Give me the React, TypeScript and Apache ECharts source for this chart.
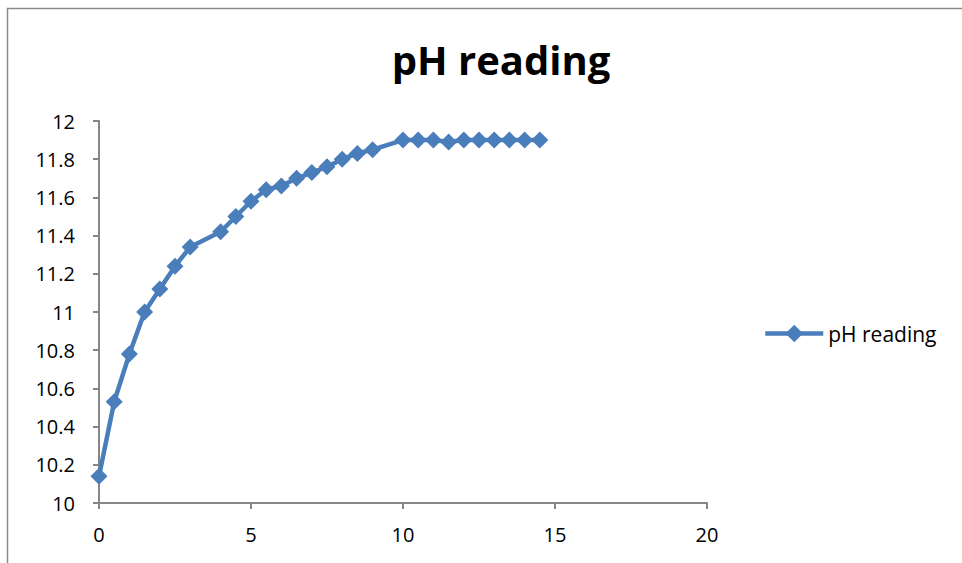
import React, { useEffect, useRef } from "react";
import * as echarts from "echarts";

const xValues = [0, 0.5, 1, 1.5, 2, 2.5, 3, 4, 4.5, 5, 5.5, 6, 6.5, 7, 7.5, 8, 8.5, 9, 10, 10.5, 11, 11.5, 12, 12.5, 13, 13.5, 14, 14.5];
const phValues = [10.14, 10.53, 10.78, 11.0, 11.12, 11.24, 11.34, 11.42, 11.5, 11.58, 11.64, 11.66, 11.7, 11.73, 11.76, 11.8, 11.83, 11.85, 11.9, 11.9, 11.9, 11.89, 11.9, 11.9, 11.9, 11.9, 11.9, 11.9];
const seriesName = "pH reading";
const titleText = "pH reading";

export default function App() {
  const ref = useRef<HTMLDivElement>(null);
  useEffect(() => {
    const chart = echarts.init(ref.current!, null, { renderer: "svg" });
    const font = "'Open Sans', 'Noto Sans', sans-serif";
    chart.setOption({
      animation: false,
      backgroundColor: "#ffffff",
      title: {
        text: titleText,
        left: 496,
        top: 34,
        textAlign: "center",
        textStyle: { fontFamily: font, fontWeight: "bold", fontSize: 40, color: "#000" },
      },
      legend: {
        data: [seriesName],
        left: 758,
        top: 318,
        itemWidth: 58,
        itemHeight: 22,
        itemGap: 8,
        lineStyle: { width: 4.5, color: "#4a7ebb" },
        textStyle: { fontFamily: font, fontSize: 21, color: "#000" },
      },
      graphic: [
        {
          type: "rect",
          shape: { x: 7.5, y: 8.5, width: 1200, height: 1200 },
          style: { fill: "none", stroke: "#8a8a8a", lineWidth: 1.5 },
          silent: true,
        },
      ],
      grid: { left: 99, right: 255, top: 121, bottom: 60, containLabel: false },
      xAxis: {
        type: "value",
        min: 0,
        max: 20,
        interval: 5,
        splitLine: { show: false },
        axisLine: { lineStyle: { color: "#868686", width: 2 } },
        axisTick: { show: true, length: 6, lineStyle: { color: "#868686", width: 2 } },
        axisLabel: { margin: 21, fontFamily: font, fontSize: 20, color: "#000" },
      },
      yAxis: {
        type: "value",
        min: 10,
        max: 12,
        interval: 0.2,
        splitLine: { show: false },
        axisLine: { show: true, lineStyle: { color: "#868686", width: 2 } },
        axisTick: { show: true, length: 6, lineStyle: { color: "#868686", width: 2 } },
        axisLabel: {
          margin: 24,
          fontFamily: font,
          fontSize: 20,
          color: "#000",
          formatter: (v: number) => String(Math.round(v * 10) / 10),
        },
      },
      series: [
        {
          name: seriesName,
          type: "line",
          data: xValues.map((x, i) => [x, phValues[i]]),
          symbol: "diamond",
          symbolSize: 17,
          showSymbol: true,
          lineStyle: { color: "#4a7ebb", width: 4.5 },
          itemStyle: { color: "#4a7ebb" },
        },
      ],
    });
    return () => chart.dispose();
  }, []);
  return (
    <div
      ref={ref}
      style={{ position: "absolute", left: 0, top: 0, width: 962, height: 563, background: "#fff" }}
    />
  );
}
